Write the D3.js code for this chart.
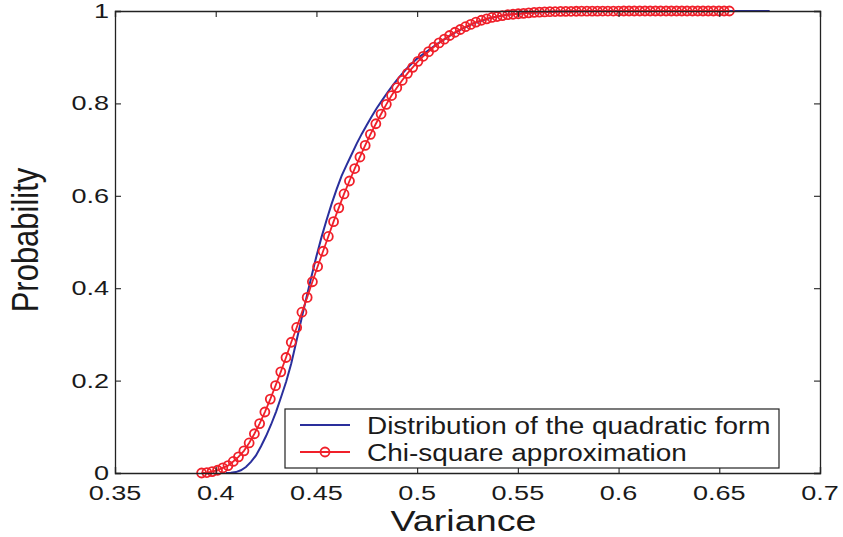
<!DOCTYPE html>
<html>
<head>
<meta charset="utf-8">
<script src="https://cdn.jsdelivr.net/npm/d3@7"></script>
<style>
  html, body { margin: 0; padding: 0; background: #fff; }
  svg { display: block; }
  text { font-family: "Liberation Sans", Arial, Helvetica, sans-serif; fill: #1a1a1a; }
</style>
</head>
<body>
<svg id="chart" width="843" height="537"></svg>
<script>
// ---- data ----
const xTicks = [0.35, 0.4, 0.45, 0.5, 0.55, 0.6, 0.65, 0.7];
const xTickLabels = ["0.35", "0.4", "0.45", "0.5", "0.55", "0.6", "0.65", "0.7"];
const yTicks = [0, 0.2, 0.4, 0.6, 0.8, 1];
const yTickLabels = ["0", "0.2", "0.4", "0.6", "0.8", "1"];

const seriesNames = ["Distribution of the quadratic form", "Chi-square approximation"];

// Distribution of the quadratic form (blue line)
const quadX = [0.405, 0.4075, 0.41, 0.4125, 0.415, 0.4175, 0.42, 0.4225, 0.425, 0.4275,
  0.43, 0.4325, 0.435, 0.4375, 0.44, 0.4425, 0.445, 0.4475, 0.45, 0.4525,
  0.455, 0.4575, 0.46, 0.4625, 0.465, 0.4675, 0.47, 0.4725, 0.475, 0.4775,
  0.48, 0.4825, 0.485, 0.4875, 0.49, 0.4925, 0.495, 0.4975, 0.5, 0.5025,
  0.505, 0.5075, 0.51, 0.5125, 0.515, 0.5175, 0.52, 0.5225, 0.525, 0.5275,
  0.53, 0.5325, 0.535, 0.5375, 0.54, 0.5425, 0.545, 0.5475, 0.55, 0.555,
  0.56, 0.565, 0.57, 0.58, 0.59, 0.6, 0.625, 0.65, 0.675];
const quadP = [0.000, 0.0005, 0.002, 0.006, 0.013, 0.024, 0.038, 0.058, 0.080, 0.105,
  0.133, 0.165, 0.198, 0.237, 0.284, 0.332, 0.379, 0.425, 0.469, 0.510,
  0.547, 0.582, 0.614, 0.643, 0.667, 0.690, 0.713, 0.734, 0.753, 0.772,
  0.790, 0.806, 0.822, 0.837, 0.851, 0.864, 0.876, 0.887, 0.897, 0.905,
  0.913, 0.921, 0.929, 0.936, 0.943, 0.950, 0.956, 0.962, 0.967, 0.972,
  0.976, 0.980, 0.983, 0.986, 0.988, 0.990, 0.992, 0.993, 0.994, 0.996,
  0.997, 0.998, 0.999, 0.9995, 0.9998, 1.0, 1.0, 1.0, 1.0];

// Chi-square approximation (red line with circle markers)
const chiX = [0.3930, 0.3956, 0.3982, 0.4009, 0.4035, 0.4061, 0.4087, 0.4113, 0.4140, 0.4166,
  0.4192, 0.4218, 0.4244, 0.4271, 0.4297, 0.4323, 0.4349, 0.4375, 0.4402, 0.4428,
  0.4454, 0.4480, 0.4506, 0.4533, 0.4559, 0.4585, 0.4611, 0.4637, 0.4664, 0.4690,
  0.4716, 0.4742, 0.4768, 0.4795, 0.4821, 0.4847, 0.4873, 0.4899, 0.4926, 0.4952,
  0.4978, 0.5004, 0.5030, 0.5057, 0.5083, 0.5109, 0.5135, 0.5161, 0.5188, 0.5214,
  0.5240, 0.5266, 0.5292, 0.5319, 0.5345, 0.5371, 0.5397, 0.5423, 0.5450, 0.5476,
  0.5502, 0.5528, 0.5554, 0.5581, 0.5607, 0.5633, 0.5659, 0.5685, 0.5712, 0.5738,
  0.5764, 0.5790, 0.5816, 0.5843, 0.5869, 0.5895, 0.5921, 0.5947, 0.5974, 0.6000,
  0.6026, 0.6052, 0.6078, 0.6105, 0.6131, 0.6157, 0.6183, 0.6209, 0.6236, 0.6262,
  0.6288, 0.6314, 0.6340, 0.6367, 0.6393, 0.6419, 0.6445, 0.6471, 0.6498, 0.6524,
  0.6550];
const chiP = [0.000, 0.001, 0.003, 0.006, 0.011, 0.016, 0.025, 0.035, 0.048, 0.065,
  0.085, 0.107, 0.132, 0.160, 0.189, 0.219, 0.250, 0.283, 0.315, 0.348,
  0.380, 0.414, 0.447, 0.480, 0.512, 0.544, 0.574, 0.604, 0.632, 0.659,
  0.684, 0.709, 0.733, 0.756, 0.777, 0.798, 0.817, 0.834, 0.850, 0.865,
  0.878, 0.891, 0.902, 0.912, 0.922, 0.931, 0.939, 0.947, 0.954, 0.960,
  0.966, 0.971, 0.976, 0.980, 0.983, 0.986, 0.988, 0.990, 0.992, 0.993,
  0.994, 0.995, 0.996, 0.997, 0.9975, 0.998, 0.9985, 0.9988, 0.999, 0.9992,
  0.9994, 0.9995, 0.9996, 0.9997, 0.9998, 0.9998, 0.9999, 0.9999, 0.9999, 0.9999,
  1.0, 1.0, 1.0, 1.0, 1.0, 1.0, 1.0, 1.0, 1.0, 1.0,
  1.0, 1.0, 1.0, 1.0, 1.0, 1.0, 1.0, 1.0, 1.0, 1.0,
  1.0];

const xLabel = "Variance";
const yLabel = "Probability";

// ---- layout ----
const svg = d3.select("#chart");
const mLeft = 115, mRight = 820, mTop = 11, mBottom = 473;
const blue = "#2a2f9c", red = "#f0202a", axisColor = "#222";

const x = d3.scaleLinear().domain([0.35, 0.7]).range([mLeft, mRight]);
const y = d3.scaleLinear().domain([0, 1]).range([mBottom, mTop]);

const quad = quadX.map((v, i) => ({ x: v, p: quadP[i] }));
const chi = chiX.map((v, i) => ({ x: v, p: chiP[i] }));

const line = d3.line().x(d => x(d.x)).y(d => y(d.p));

// plot content
const plot = svg.append("g");
plot.append("path").datum(quad)
  .attr("d", line).attr("fill", "none").attr("stroke", blue).attr("stroke-width", 2);
plot.append("path").datum(chi)
  .attr("d", line).attr("fill", "none").attr("stroke", red).attr("stroke-width", 1.8);
plot.selectAll("circle.m").data(chi).enter().append("circle")
  .attr("class", "m")
  .attr("cx", d => x(d.x)).attr("cy", d => y(d.p)).attr("r", 4.5)
  .attr("fill", "none").attr("stroke", red).attr("stroke-width", 1.8);

// axes box with inward ticks
const tickLen = 6;
const gB = svg.append("g").attr("transform", `translate(0,${mBottom})`)
  .call(d3.axisBottom(x).tickValues(xTicks).tickSize(-tickLen).tickFormat(""));
const gT = svg.append("g").attr("transform", `translate(0,${mTop})`)
  .call(d3.axisTop(x).tickValues(xTicks).tickSize(-tickLen).tickFormat(""));
const gL = svg.append("g").attr("transform", `translate(${mLeft},0)`)
  .call(d3.axisLeft(y).tickValues(yTicks).tickSize(-tickLen).tickFormat(""));
const gR = svg.append("g").attr("transform", `translate(${mRight},0)`)
  .call(d3.axisRight(y).tickValues(yTicks).tickSize(-tickLen).tickFormat(""));
[gB, gT, gL, gR].forEach(g => {
  g.select(".domain").attr("stroke", axisColor).attr("stroke-width", 1.3);
  g.selectAll(".tick line").attr("stroke", axisColor).attr("stroke-width", 1.1);
});

// tick labels (stretched horizontally like the reference)
const tickFont = 20.5, tickStretch = 1.32;
svg.append("g").selectAll("text").data(xTicks).enter().append("text")
  .attr("transform", d => `translate(${x(d)},${mBottom + 27}) scale(${tickStretch},1)`)
  .attr("text-anchor", "middle").attr("font-size", tickFont)
  .text((d, i) => xTickLabels[i]);
svg.append("g").selectAll("text").data(yTicks).enter().append("text")
  .attr("transform", d => `translate(${mLeft - 6},${y(d) + 7}) scale(${tickStretch},1)`)
  .attr("text-anchor", "end").attr("font-size", tickFont)
  .text((d, i) => yTickLabels[i]);

// axis titles
svg.append("text")
  .attr("transform", `translate(${(mLeft + mRight) / 2 - 4},${531}) scale(1.3,1)`)
  .attr("text-anchor", "middle").attr("font-size", 29).text(xLabel);
svg.append("text")
  .attr("transform", `translate(${38},${240}) rotate(-90) scale(1,1.18)`)
  .attr("text-anchor", "middle").attr("font-size", 31).text(yLabel);

// legend
const lg = svg.append("g");
lg.append("rect").attr("x", 285).attr("y", 409).attr("width", 494).attr("height", 59)
  .attr("fill", "#fff").attr("stroke", axisColor).attr("stroke-width", 1.2);
const rows = [
  { name: seriesNames[0], color: blue, marker: false, yy: 425 },
  { name: seriesNames[1], color: red, marker: true, yy: 452 }
];
rows.forEach(r => {
  lg.append("line").attr("x1", 300).attr("x2", 350).attr("y1", r.yy).attr("y2", r.yy)
    .attr("stroke", r.color).attr("stroke-width", 1.8);
  if (r.marker) {
    lg.append("circle").attr("cx", 325).attr("cy", r.yy).attr("r", 4.5)
      .attr("fill", "none").attr("stroke", r.color).attr("stroke-width", 1.8);
  }
  lg.append("text")
    .attr("transform", `translate(367,${r.yy + 8.5}) scale(1.14,1)`)
    .attr("font-size", 24.5).text(r.name);
});
</script>
</body>
</html>
